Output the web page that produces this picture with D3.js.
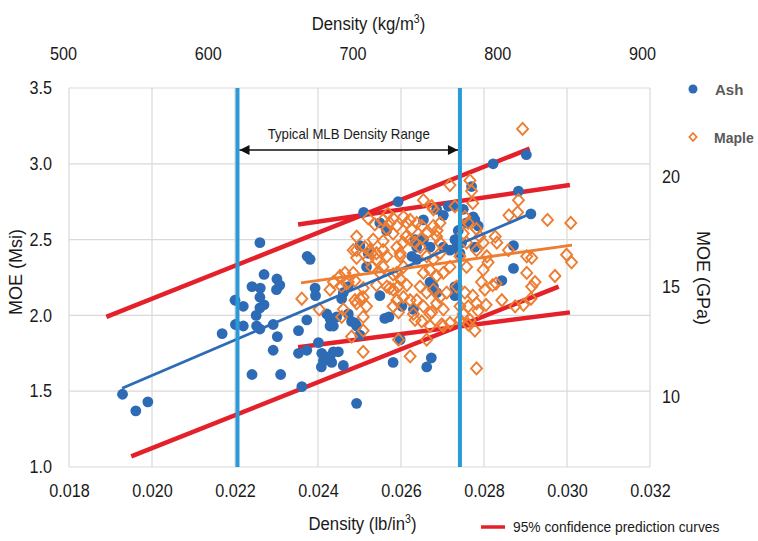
<!DOCTYPE html>
<html>
<head>
<meta charset="utf-8">
<script src="https://cdn.jsdelivr.net/npm/d3@7"></script>
<style>
  body { margin: 0; background: #fff; }
</style>
</head>
<body>
<svg id="chart" width="758" height="541"></svg>
<script>
// ---- data: [density (lb/in^3), MOE (Msi)] ----
const ashPoints = [
  [0.01929,1.48],[0.01961,1.37],[0.01990,1.43],[0.02169,1.88],[0.02200,2.10],[0.02220,2.06],[0.02201,1.94],[0.02220,1.93],[0.02260,2.48],[0.02241,2.19],
  [0.02261,2.18],[0.02270,2.27],[0.02301,2.24],[0.02308,2.20],[0.02300,2.17],[0.02260,2.12],[0.02270,2.07],[0.02260,2.05],[0.02251,2.00],[0.02252,1.93],
  [0.02260,1.91],[0.02292,1.94],[0.02302,1.86],[0.02292,1.77],[0.02241,1.61],[0.02310,1.61],[0.02361,1.53],[0.02353,1.90],[0.02373,1.97],[0.02374,2.39],
  [0.02381,2.37],[0.02393,2.18],[0.02394,2.13],[0.02353,1.75],[0.02373,1.77],[0.02401,1.82],[0.02409,1.75],[0.02413,1.70],[0.02408,1.66],[0.02429,1.73],
  [0.02437,1.76],[0.02433,1.69],[0.02449,1.76],[0.02461,1.67],[0.02421,2.01],[0.02429,1.98],[0.02445,1.99],[0.02429,1.93],[0.02437,1.93],[0.02473,2.01],
  [0.02481,1.96],[0.02493,1.93],[0.02457,2.11],[0.02461,2.15],[0.02473,2.19],[0.02489,1.95],[0.02501,1.87],[0.02493,1.42],[0.02510,2.68],[0.02593,2.75],
  [0.02517,2.32],[0.02521,2.41],[0.02501,2.46],[0.02549,2.13],[0.02561,1.98],[0.02571,1.99],[0.02581,1.69],[0.02598,1.84],[0.02602,2.06],[0.02634,2.50],
  [0.02638,2.45],[0.02626,2.39],[0.02638,2.37],[0.02654,2.63],[0.02549,2.61],[0.02565,2.56],[0.02654,2.50],[0.02670,2.45],[0.02630,2.04],[0.02670,2.22],
  [0.02662,1.66],[0.02673,1.72],[0.02686,2.70],[0.02702,2.66],[0.02714,2.72],[0.02702,2.45],[0.02718,2.43],[0.02734,2.45],[0.02742,2.41],[0.02678,2.19],
  [0.02686,2.15],[0.02730,2.19],[0.02730,2.13],[0.02770,2.85],[0.02774,2.65],[0.02778,2.63],[0.02786,2.59],[0.02758,2.61],[0.02738,2.56],[0.02730,2.50],
  [0.02746,2.48],[0.02750,2.70],[0.02730,2.72],[0.02822,3.00],[0.02902,3.06],[0.02883,2.82],[0.02913,2.67],[0.02871,2.46],[0.02871,2.31],[0.02843,2.23],
  [0.02778,2.45]
];

const maplePoints = [
  [0.02361,2.11],[0.02403,2.04],[0.02429,2.17],[0.02437,2.22],[0.02453,2.26],[0.02465,2.28],[0.02473,2.22],[0.02485,2.28],[0.02489,2.23],[0.02461,2.04],
  [0.02457,1.99],[0.02489,2.10],[0.02493,2.08],[0.02509,2.12],[0.02517,2.06],[0.02509,1.99],[0.02509,1.90],[0.02509,1.76],[0.02481,1.86],[0.02493,2.52],
  [0.02493,2.43],[0.02521,2.64],[0.02533,2.50],[0.02525,2.43],[0.02521,2.37],[0.02529,2.32],[0.02541,2.37],[0.02557,2.43],[0.02566,2.39],[0.02557,2.32],
  [0.02569,2.67],[0.02581,2.64],[0.02557,2.63],[0.02566,2.57],[0.02590,2.59],[0.02606,2.65],[0.02622,2.63],[0.02612,2.52],[0.02605,2.48],[0.02590,2.45],
  [0.02598,2.39],[0.02606,2.32],[0.02590,2.28],[0.02549,2.28],[0.02541,2.20],[0.02566,2.19],[0.02581,2.17],[0.02593,2.19],[0.02606,2.12],[0.02622,2.10],
  [0.02630,2.01],[0.02634,1.97],[0.02590,2.10],[0.02581,2.06],[0.02654,2.76],[0.02678,2.70],[0.02650,2.59],[0.02662,2.54],[0.02678,2.59],[0.02686,2.52],
  [0.02646,2.45],[0.02662,2.39],[0.02678,2.37],[0.02694,2.41],[0.02654,2.28],[0.02670,2.30],[0.02686,2.26],[0.02702,2.28],[0.02718,2.32],[0.02646,2.19],
  [0.02662,2.15],[0.02678,2.17],[0.02694,2.12],[0.02710,2.15],[0.02638,2.10],[0.02654,2.06],[0.02670,2.01],[0.02686,2.08],[0.02702,2.04],[0.02670,1.93],
  [0.02702,1.93],[0.02718,1.95],[0.02718,2.86],[0.02730,2.72],[0.02766,2.89],[0.02750,2.54],[0.02758,2.48],[0.02742,2.39],[0.02758,2.32],[0.02734,2.19],
  [0.02754,2.15],[0.02742,2.06],[0.02750,2.01],[0.02742,1.97],[0.02766,1.97],[0.02778,1.90],[0.02622,1.73],[0.02662,1.84],[0.02698,1.94],[0.02782,1.65],
  [0.02893,3.23],[0.02770,2.82],[0.02773,2.74],[0.02883,2.76],[0.02860,2.66],[0.02881,2.68],[0.02953,2.63],[0.03009,2.61],[0.02754,2.65],[0.02762,2.61],
  [0.02674,2.72],[0.02694,2.61],[0.02687,2.56],[0.02694,2.48],[0.02782,2.57],[0.02790,2.52],[0.02798,2.48],[0.02782,2.43],[0.02827,2.52],[0.02831,2.48],
  [0.02859,2.43],[0.02903,2.39],[0.02999,2.40],[0.03011,2.35],[0.02915,2.38],[0.02903,2.28],[0.02923,2.22],[0.02915,2.19],[0.02971,2.26],[0.02843,2.10],
  [0.02875,2.06],[0.02895,2.07],[0.02913,2.11],[0.02782,2.08],[0.02762,2.06],[0.02798,2.30],[0.02794,2.22],[0.02810,2.35],[0.02821,2.20],[0.02762,1.94],
  [0.02650,1.96],[0.02674,2.02],[0.02786,2.03],[0.02805,2.07],[0.02773,2.13],[0.02802,2.17],[0.02829,2.21],[0.02807,2.39],[0.02457,2.19],[0.02469,2.21],
  [0.02501,2.11],[0.02509,2.18],[0.02594,1.84],[0.02573,2.18],[0.02594,2.02],[0.02581,2.27],[0.02598,2.24],[0.02614,2.20],[0.02493,2.38],[0.02537,2.60],
  [0.02573,2.61],[0.02581,2.54],[0.02614,2.61],[0.02626,2.57],[0.02638,2.61],[0.02622,2.50],[0.02634,2.48],[0.02650,2.51],[0.02485,2.43],[0.02513,2.45],
  [0.02529,2.41],[0.02557,2.49],[0.02598,2.41],[0.02541,2.41]
];

// linear fits (start and end of each trend line)
const ashFit = [[0.01928,1.52],[0.02916,2.675]];
const mapleFit = [[0.02359,2.214],[0.03012,2.464]];

// 95% prediction curves
const ashUpper = [[0.0189,1.99],[0.0291,3.10]];
const ashLower = [[0.0195,1.07],[0.0298,2.19]];
const mapleUpper = [[0.02352,2.60],[0.03007,2.86]];
const mapleLower = [[0.02352,1.79],[0.03007,2.02]];

// typical MLB density range (lb/in^3)
const mlbRange = [0.02206, 0.02742];

// axis ticks
const densityTicks = [0.018,0.020,0.022,0.024,0.026,0.028,0.030,0.032];
const moeTicks = [1.0,1.5,2.0,2.5,3.0,3.5];
const gpaTicks = [10,15,20];
const kgTicks = [500,600,700,800,900];
const MSI_TO_GPA = 6.895;

// ---- layout ----
const W = 758, H = 541;
const plot = {left: 69, right: 650, top: 88, bottom: 467};
const FONT = "'Liberation Sans',Arial,sans-serif";
const INK = "#1a1a1a";

// squeeze a plain text horizontally to a narrower, Calibri-like width
function condense(sel, k) {
  sel.each(function () {
    const len = this.getComputedTextLength();
    d3.select(this).attr("textLength", len * k).attr("lengthAdjust", "spacingAndGlyphs");
  });
}

const svg = d3.select("#chart");
svg.append("rect").attr("width", W).attr("height", H).attr("fill", "#fff");

const x = d3.scaleLinear().domain([0.018, 0.032]).range([plot.left, plot.right]);
const y = d3.scaleLinear().domain([1.0, 3.5]).range([plot.bottom, plot.top]);
const yGpa = d3.scaleLinear().domain([1.0 * MSI_TO_GPA, 3.5 * MSI_TO_GPA]).range([plot.bottom, plot.top]);
const xKg = d3.scaleLinear().domain([500, 900]).range([x(0.018) - 6, x(0.032) - 8]);

// gridlines
const grid = svg.append("g").attr("stroke", "#d9d9d9").attr("stroke-width", 1.2);
grid.selectAll("line.v").data(densityTicks).join("line")
  .attr("x1", d => x(d)).attr("x2", d => x(d))
  .attr("y1", plot.top).attr("y2", plot.bottom);
grid.selectAll("line.h").data(moeTicks).join("line")
  .attr("x1", plot.left).attr("x2", plot.right)
  .attr("y1", d => y(d)).attr("y2", d => y(d));

// axes (labels only, no domain lines)
const bottomAxis = svg.append("g").attr("transform", `translate(0,${plot.bottom})`)
  .call(d3.axisBottom(x).tickValues(densityTicks).tickFormat(d3.format(".3f")).tickSize(0).tickPadding(17));
const leftAxis = svg.append("g").attr("transform", `translate(${plot.left},0)`)
  .call(d3.axisLeft(y).tickValues(moeTicks).tickFormat(d3.format(".1f")).tickSize(0).tickPadding(17));
const rightAxis = svg.append("g").attr("transform", `translate(${plot.right},0)`)
  .call(d3.axisRight(yGpa).tickValues(gpaTicks).tickFormat(d3.format("d")).tickSize(0).tickPadding(12));
const topAxis = svg.append("g").attr("transform", `translate(0,60)`)
  .call(d3.axisTop(xKg).tickValues(kgTicks).tickFormat(d3.format("d")).tickSize(0).tickPadding(0));
[bottomAxis, leftAxis, rightAxis, topAxis].forEach(g => {
  g.select(".domain").remove();
  g.selectAll("text").attr("font-family", FONT).attr("font-size", 18).attr("fill", INK);
  condense(g.selectAll("text"), 0.9);
});
rightAxis.selectAll(".tick text").attr("dy", "0.2em");

// line helper
const line = d3.line().x(d => x(d[0])).y(d => y(d[1]));

// prediction curves
svg.append("g").selectAll("path").data([ashUpper, ashLower, mapleUpper, mapleLower]).join("path")
  .attr("d", line).attr("fill", "none").attr("stroke", "#e4202a").attr("stroke-width", 4.5);

// ash points
svg.append("g").selectAll("circle").data(ashPoints).join("circle")
  .attr("cx", d => x(d[0])).attr("cy", d => y(d[1])).attr("r", 5.4)
  .attr("fill", "#2e6bb5");

// maple points (open diamonds)
const diamond = "M0,-6L5.5,0L0,6L-5.5,0Z";
svg.append("g").selectAll("path").data(maplePoints).join("path")
  .attr("transform", d => `translate(${x(d[0])},${y(d[1])})`)
  .attr("d", diamond).attr("fill", "none").attr("stroke", "#ed7d31").attr("stroke-width", 1.9);

// trend lines
svg.append("path").datum(ashFit).attr("d", line).attr("fill", "none")
  .attr("stroke", "#2e6bb5").attr("stroke-width", 2.8);
svg.append("path").datum(mapleFit).attr("d", line).attr("fill", "none")
  .attr("stroke", "#ed7d31").attr("stroke-width", 2.8);

// MLB range bounds
svg.append("g").selectAll("line").data(mlbRange).join("line")
  .attr("x1", d => x(d)).attr("x2", d => x(d))
  .attr("y1", plot.top).attr("y2", plot.bottom)
  .attr("stroke", "#2b9ad6").attr("stroke-width", 4);

// double arrow between the range bounds
const defs = svg.append("defs");
defs.append("marker").attr("id", "ah").attr("viewBox", "0 0 10 10")
  .attr("refX", 10).attr("refY", 5).attr("markerWidth", 11).attr("markerHeight", 10)
  .attr("markerUnits", "userSpaceOnUse").attr("orient", "auto-start-reverse")
  .append("path").attr("d", "M0,0L10,5L0,10Z").attr("fill", "#111");
const arrowY = 150;
svg.append("line")
  .attr("x1", x(mlbRange[0]) + 2).attr("x2", x(mlbRange[1]) - 2)
  .attr("y1", arrowY).attr("y2", arrowY)
  .attr("stroke", "#111").attr("stroke-width", 1.6)
  .attr("marker-start", "url(#ah)").attr("marker-end", "url(#ah)");
const rangeLabel = svg.append("text").attr("x", (x(mlbRange[0]) + x(mlbRange[1])) / 2).attr("y", 139)
  .attr("text-anchor", "middle").attr("font-family", FONT).attr("font-size", 15)
  .attr("fill", INK).text("Typical MLB Density Range");
condense(rangeLabel, 0.88);

// axis titles with a superscript; narrowed with a horizontal scale
function densityTitle(cx, cy, unit) {
  const t = svg.append("text")
    .attr("transform", `translate(${cx},${cy}) scale(0.88,1)`)
    .attr("text-anchor", "middle").attr("font-family", FONT).attr("font-size", 19).attr("fill", INK);
  t.append("tspan").text(`Density (${unit}`);
  t.append("tspan").attr("dy", -7).attr("font-size", 12).text("3");
  t.append("tspan").attr("dy", 7).text(")");
}
const midX = (plot.left + plot.right) / 2;
densityTitle(midX + 3, 530, "lb/in");
densityTitle(midX + 9, 30, "kg/m");

svg.append("text").attr("transform", "translate(22,272) rotate(-90)")
  .attr("text-anchor", "middle").attr("font-family", FONT).attr("font-size", 18)
  .attr("fill", INK).text("MOE (Msi)");
svg.append("text").attr("transform", "translate(697,278) rotate(90)")
  .attr("text-anchor", "middle").attr("font-family", FONT).attr("font-size", 18)
  .attr("fill", INK).text("MOE (GPa)");

// legend
const lg = svg.append("g");
lg.append("circle").attr("cx", 693).attr("cy", 89).attr("r", 4.5).attr("fill", "#2e6bb5");
lg.append("text").attr("x", 715).attr("y", 95).attr("font-family", FONT).attr("font-size", 15)
  .attr("font-weight", "bold").attr("fill", "#595959").text("Ash");
lg.append("path").attr("transform", "translate(693,137)").attr("d", "M0,-4L3.6,0L0,4L-3.6,0Z")
  .attr("fill", "none").attr("stroke", "#ed7d31").attr("stroke-width", 1.8);
lg.append("text").attr("x", 714).attr("y", 143).attr("font-family", FONT).attr("font-size", 14)
  .attr("font-weight", "bold").attr("fill", "#595959").text("Maple");
lg.append("line").attr("x1", 481).attr("x2", 505).attr("y1", 527).attr("y2", 527)
  .attr("stroke", "#e4202a").attr("stroke-width", 3.5);
lg.append("text").attr("x", 513).attr("y", 532).attr("font-family", FONT).attr("font-size", 15)
  .attr("fill", INK).text("95% confidence prediction curves")
  .call(condense, 0.92);
</script>
</body>
</html>
